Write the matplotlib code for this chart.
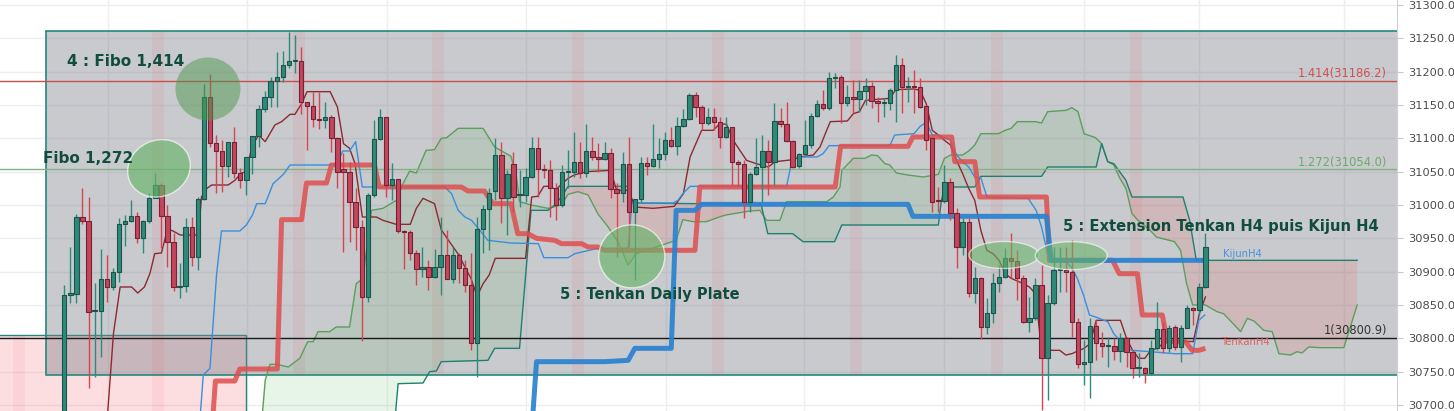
import numpy as np
import matplotlib
matplotlib.use("Agg")
import matplotlib.pyplot as plt
from matplotlib.patches import Rectangle, Ellipse
from matplotlib import transforms

# ---------------- data ----------------
opens = [30600, 30864.5, 30866.5, 30981.5, 30975.5, 30841, 30841.5, 30888.5, 30877.5, 30899,
         30971.5, 30976, 30983.5, 30950, 30976, 31011, 31030, 30983.5, 30944, 30877.5,
         30879, 30967.5, 30921.5, 31008.5, 31162.5, 31092.5, 31081.5, 31059, 31095, 31047.5,
         31037.5, 31071.5, 31103.5, 31143.5, 31161.5, 31186.5, 31191.5, 31210, 31216, 31216,
         31154, 31149, 31128.5, 31127.5, 31131.5, 31100, 31053.5, 31050, 31005, 30966.5,
         30862.5, 31015, 31098.5, 31132.5, 31030, 31038.5, 30961.5, 30959, 30927.5, 30903.5,
         30906.5, 30891.5, 30907.5, 30924.5, 30888.5, 30925, 30905, 30880, 30792.5, 30963.5,
         30993.5, 31021.5, 31075, 31010, 31061, 31015, 31015, 31041.5, 31085, 31053,
         31052.5, 31025, 31000, 31050, 31050, 31065, 31047.5, 31081, 31071.5, 31068.5,
         31077.5, 31023.5, 31017.5, 31061, 30989, 31008.5, 31062.5, 31059, 31068.5, 31076,
         31097.5, 31089, 31119, 31128.5, 31165, 31147.5, 31122.5, 31132.5, 31125, 31101.5,
         31116.5, 31065, 31061, 31005, 31046, 31057.5, 31081, 31065, 31126, 31121,
         31096.5, 31059, 31076, 31090, 31133.5, 31151, 31145, 31190, 31192.5, 31152.5,
         31161.5, 31158.5, 31171, 31178.5, 31156.5, 31152.5, 31152.5, 31172.5, 31210, 31177.5,
         31177.5, 31177.5, 31148.5, 31100, 31006, 31006, 31035, 30987.5, 30937.5, 30975,
         30867.5, 30890, 30816.5, 30838.5, 30882.5, 30892.5, 30920, 30916, 30890, 30825,
         30831, 30880, 30770, 30853.5, 30902.5, 30902.5, 30899, 30825, 30761, 30764,
         30818.5, 30792.5, 30788.5, 30788.5, 30781.5, 30800, 30780, 30756, 30756, 30748.5,
         30786, 30813.5, 30785, 30816.5, 30787.5, 30815, 30845, 30842.5, 30877.5]
closes = [30865, 30868.5, 30981.5, 30975.5, 30840, 30842, 30888.5, 30877.5, 30899, 30971.5,
          30976, 30983.5, 30950, 30976, 31011, 31030, 30983.5, 30944, 30877.5, 30879,
          30967.5, 30921.5, 31008.5, 31162.5, 31092.5, 31081.5, 31059, 31095, 31047.5, 31037.5,
          31071.5, 31103.5, 31143.5, 31161.5, 31186.5, 31191.5, 31210, 31216, 31216.5, 31154,
          31149, 31128.5, 31128, 31131.5, 31100, 31050, 31050, 31005, 30966.5, 30862.5,
          31015, 31098.5, 31132.5, 31030, 31038.5, 30961.5, 30959, 30927.5, 30903.5, 30906.5,
          30891.5, 30907.5, 30924.5, 30888.5, 30925, 30905, 30880, 30792.5, 30963.5, 30993.5,
          31017.5, 31075, 31010, 31046.5, 31012.5, 31016, 31042.5, 31085, 31054, 31052,
          31025, 31000, 31049, 31051, 31065, 31047.5, 31081, 31071.5, 31068.5, 31077.5,
          31023.5, 31017.5, 31061, 30989, 31008.5, 31062.5, 31059, 31068.5, 31076, 31097.5,
          31089, 31119, 31128.5, 31165, 31147.5, 31122.5, 31132.5, 31125, 31101.5, 31116.5,
          31065, 31061, 31005, 31046, 31057.5, 31081, 31065, 31126, 31121, 31096.5,
          31057.5, 31076, 31090, 31133.5, 31151, 31145, 31190, 31192.5, 31152.5, 31161.5,
          31158.5, 31171, 31178.5, 31156.5, 31152.5, 31153, 31172.5, 31210, 31177.5, 31178,
          31177, 31147.5, 31097.5, 31005, 31005.5, 31035, 30987.5, 30937.5, 30975, 30867.5,
          30890, 30816.5, 30838.5, 30882.5, 30892.5, 30920, 30916, 30890, 30825, 30831,
          30880, 30770, 30853.5, 30902.5, 30903, 30899, 30825, 30761, 30764, 30818.5,
          30792.5, 30788.5, 30789, 30781.5, 30800, 30780, 30755, 30756.5, 30748.5, 30786,
          30813.5, 30785, 30815, 30787.5, 30815, 30845, 30842.5, 30877.5, 30937.5]
highs = [30880, 30937, 30986.5, 31025, 31012.5, 30882.5, 30933.5, 30925, 30905, 30980,
         30985, 31007.5, 30990, 30977.5, 31017.5, 31048.5, 31032.5, 31000, 30957.5, 30912.5,
         30980, 30982.5, 31012.5, 31181.5, 31196.5, 31105, 31097.5, 31095, 31116.5, 31055,
         31071.5, 31103.5, 31150, 31171.5, 31191.5, 31229, 31231, 31260, 31255, 31237.5,
         31155, 31170, 31170, 31155, 31135, 31102.5, 31077.5, 31065, 31025, 30977.5,
         31017.5, 31127.5, 31143.5, 31132.5, 31063.5, 31038.5, 30962.5, 30962.5, 30932.5, 30936.5,
         30917.5, 30933.5, 30982.5, 30962.5, 30937.5, 30927.5, 30917.5, 30927.5, 30982.5, 31000,
         31025, 31100, 31095, 31052.5, 31080, 31052.5, 31055, 31102.5, 31101.5, 31062,
         31067.5, 31032.5, 31060, 31082.5, 31110, 31095, 31121.5, 31102.5, 31092.5, 31095,
         31085, 31032.5, 31080, 31102.5, 31008.5, 31072.5, 31072.5, 31121.5, 31100, 31110,
         31117.5, 31132.5, 31143.5, 31168.5, 31170, 31150, 31145, 31145, 31132.5, 31132.5,
         31117.5, 31067.5, 31067.5, 31050, 31100, 31105, 31097.5, 31152.5, 31145, 31155,
         31097.5, 31077.5, 31127.5, 31137.5, 31157.5, 31172.5, 31200, 31198.5, 31195, 31180,
         31187.5, 31187.5, 31190, 31185, 31162.5, 31160, 31175, 31225, 31220, 31192.5,
         31202.5, 31190, 31150, 31102.5, 31027.5, 31060, 31040, 30995, 30980, 30980,
         30907.5, 30892.5, 30860, 30897.5, 30910, 30935, 30957.5, 30932.5, 30895, 30862.5,
         30890, 30910, 30865, 30937.5, 30937.5, 30937.5, 30947.5, 30830, 30797.5, 30830,
         30827.5, 30810, 30802.5, 30800, 30807.5, 30802.5, 30782.5, 30777.5, 30757.5, 30797.5,
         30855, 30825, 30820, 30820, 30820, 30850, 30847.5, 30882.5, 30957.5]
lows = [30590, 30853.5, 30853.5, 30972, 30725, 30742.5, 30772.5, 30855, 30872, 30885,
        30938.5, 30975, 30943.5, 30927.5, 30972.5, 31010, 30935, 30907.5, 30871.5, 30860,
        30870, 30908.5, 30902.5, 31007.5, 31087.5, 31018.5, 31020, 31042.5, 31040, 31025,
        31015, 31046.5, 31087.5, 31140, 31146.5, 31146.5, 31185, 31205, 31197.5, 31136.5,
        31082.5, 31117.5, 31113.5, 31115, 31080, 31025, 30930, 30945, 30932.5, 30796.5,
        30855, 31012.5, 31097.5, 31012.5, 31007.5, 30957.5, 30903.5, 30917.5, 30880, 30891.5,
        30872.5, 30890, 30865, 30888.5, 30882.5, 30882.5, 30870, 30782.5, 30742.5, 30927.5,
        30932.5, 31007.5, 30972.5, 30955, 30990, 30997.5, 31005, 31040, 31012.5, 31040,
        30982.5, 30977.5, 30997.5, 31025, 31042.5, 31040, 31042.5, 31067.5, 31050, 31067.5,
        31010, 30922.5, 31005, 30937.5, 30887.5, 31005, 31045, 31057.5, 31055, 31067.5,
        31087.5, 31075, 31117.5, 31127.5, 31132.5, 31112.5, 31120, 31112.5, 31085, 31100,
        31030, 31027.5, 30980, 30990, 31045, 31005, 31015, 31030, 31117.5, 31095,
        31055, 31055, 31075, 31085, 31132.5, 31142.5, 31142.5, 31175, 31122.5, 31148.5,
        31137.5, 31140, 31150, 31145, 31125, 31132.5, 31142.5, 31125, 31137.5, 31155,
        31138.5, 31145, 31082.5, 30990, 30990, 31003.5, 30977.5, 30905, 30925, 30862.5,
        30852.5, 30798.5, 30806.5, 30823.5, 30870, 30890, 30890, 30857.5, 30822.5, 30810,
        30828, 30692.5, 30707.5, 30850, 30870, 30870, 30802.5, 30755, 30730, 30710,
        30767.5, 30772.5, 30757.5, 30767.5, 30765, 30757.5, 30740, 30742.5, 30732.5, 30745,
        30782.5, 30777.5, 30780, 30782.5, 30765, 30815, 30820, 30835, 30875]

# thin Tenkan (H1) line
tenkan_x = [7.0, 8.1, 9.2, 11.1, 12.1, 13.2, 14.1, 14.9, 16.0, 16.9, 17.7, 19.1, 22.1, 22.6, 23.5,
            24.3, 27.0, 28.1, 29.2, 30.0, 30.9, 32.0, 33.1, 34.7, 35.8, 37.2, 38.0, 39.1, 40.0,
            43.8, 45.0, 46.0, 47.0, 47.9, 49.1, 51.4, 52.5, 54.7, 57.0, 58.0, 59.1, 61.0, 62.1,
            63.3, 65, 66, 67, 68, 69, 70, 71, 76, 77, 78, 79, 80, 81, 82, 83, 84, 86, 90, 91,
            93, 94, 97, 100.5, 102.0, 103.1, 105.0, 106.9, 108.0, 109.1, 110.2, 111.3, 112.4,
            114.0, 116.0, 117.1, 120.1, 121.2, 123.4, 124.5, 125.6, 126.2, 129, 130, 131, 132,
            136, 137, 140, 141, 142, 143, 144, 145, 146, 147, 148, 149, 150, 151, 152, 153,
            154, 155, 156, 158, 159, 160, 161, 164, 165, 166, 168, 169, 170, 174, 175, 176,
            177, 178, 179, 180, 181, 182, 186, 187, 188]
tenkan_y = [30670, 30807, 30877, 30877, 30868, 30877, 30897, 30927, 30928, 30960, 30962, 30955,
            30955, 31012, 31025, 31030, 31030, 31037, 31048, 31050, 31087, 31105, 31095, 31120,
            31125, 31136, 31136, 31152, 31170, 31170, 31147, 31092, 31085, 31062, 30982, 30982,
            30977, 30971, 30971, 30995, 31010, 31002, 30963, 30947, 30925, 30907, 30890, 30863,
            30882, 30895, 30920, 30920, 31012, 31013, 31028, 31028, 31023, 31032, 31040, 31045,
            31050, 31052, 31022, 31022, 30997, 30995, 30998, 31017, 31072, 31112, 31112, 31122,
            31121, 31097, 31082, 31067, 31062, 31057, 31065, 31068, 31072, 31075, 31087, 31112,
            31125, 31126, 31137, 31140, 31157, 31160, 31173, 31174, 31172, 31152, 31112, 31105,
            31097, 31090, 31067, 31047, 31025, 31007, 30962, 30932, 30927, 30917, 30897, 30890,
            30882, 30877, 30867, 30782, 30782, 30775, 30777, 30785, 30792, 30827, 30827, 30800,
            30782, 30770, 30770, 30782, 30785, 30792, 30797, 30795, 30837, 30862]

# thin Kijun (H1) line
kijun_x = [22.2, 22.9, 24.0, 25.1, 25.9, 28.9, 30.0, 31.0, 31.7, 33.1, 34.4, 36.1, 37.2, 44.8,
           45.9, 47.0, 48.0, 49.1, 62.7, 63.8, 64.9, 66.0, 67.1, 68.2, 69.8, 73.6, 78.1, 79.0,
           83.0, 84.1, 87.9, 92.9, 93.5, 100.3, 101.1, 101.9, 103.1, 119.0, 120.0, 124.0,
           125.0, 126.0, 136.0, 136.8, 140.0, 141.0, 142.0, 143.0, 144.0, 146.0, 147.0, 148.0,
           149.0, 150.0, 151.0, 152.0, 158.8, 160.1, 161.0, 162.0, 163.0, 164.9, 165.9, 166.9,
           167.9, 168.9, 169.9, 171.9, 172.9, 173.9, 174.9, 175.9, 178.9, 182.9, 185.9, 186.9,
           187.9]
kijun_y = [30660, 30745, 30755, 30897, 30961, 30961, 30970, 30985, 31002, 31002, 31032, 31046,
           31060, 31060, 31081, 31081, 31095, 31027, 31027, 31017, 30992, 30982, 30977, 30965,
           30947, 30943, 30942, 30921, 30921, 30927, 30935, 30935, 31003, 31003, 31007, 31017,
           31028, 31028, 31072, 31072, 31077, 31089, 31089, 31105, 31107, 31118, 31124, 31105,
           31105, 31097, 31075, 31065, 31057, 31042, 31041, 31012, 31010, 30992, 30967, 30927,
           30917, 30915, 30907, 30890, 30865, 30835, 30832, 30825, 30807, 30797, 30787, 30782,
           30780, 30777, 30777, 30827, 30835]

# Kumo (cloud) spans
span_a_x = [32.3, 33.1, 33.9, 35.0, 36.9, 38.8, 40.1, 41.0, 41.8, 43.7, 44.8, 47.0, 48.1, 49.2,
            50.6, 52.5, 54.7, 55.8, 56.9, 58.0, 59.6, 61.0, 62.1, 63.0, 64.9, 69.0, 70.9, 73.6,
            74.5, 75.0, 76.9, 79.7, 81.9, 83.0, 84.6, 86.3, 87.9, 89.6, 91.2, 92.9, 94.2, 95.9,
            100.8, 101.9, 103.6, 105.8, 107.9, 109.0, 112.9, 114.6, 115.7, 117.9, 119.0, 125.6,
            126.7, 127.8, 128.1, 130.0, 131.9, 133.0, 134.0, 135.2, 136.0, 137.1, 139.0, 141.5,
            144.0, 145.0, 146.0, 148.0, 149.0, 150.0, 151.0, 153.9, 155.0, 156.0, 157.0, 160.0,
            161.0, 162.0, 165.0, 166.0, 167.0, 168.0, 169.9, 170.9, 171.9, 172.9, 173.9, 174.9,
            175.9, 176.9, 178.9, 179.9, 182.9, 183.9, 184.9, 185.9, 188.0, 189.9, 191.0, 193.8,
            194.9, 196.0, 197.6, 199.0, 200.1, 202.0, 203.1, 203.9, 205.0, 206.9, 210.8, 213.0]
span_a_y = [30650, 30737, 30761, 30761, 30757, 30770, 30795, 30795, 30810, 30810, 30817, 30817,
            30882, 30890, 30992, 30995, 31007, 31032, 31051, 31048, 31082, 31083, 31100, 31101,
            31115, 31115, 31087, 31073, 31042, 31005, 31000, 30995, 31000, 31016, 31020, 31015,
            30987, 30967, 30945, 30910, 30927, 30932, 30947, 30978, 30975, 30975, 30982, 30985,
            30991, 30992, 30977, 30977, 31005, 31005, 31012, 31027, 31052, 31070, 31070, 31075,
            31074, 31062, 31060, 31048, 31045, 31042, 31046, 31070, 31075, 31075, 31081, 31090,
            31107, 31107, 31112, 31115, 31125, 31125, 31123, 31140, 31142, 31146, 31140, 31107,
            31101, 31092, 31065, 31060, 31040, 31025, 30987, 30977, 30962, 30952, 30945, 30932,
            30882, 30850, 30850, 30840, 30837, 30810, 30830, 30826, 30812, 30810, 30777, 30775,
            30780, 30778, 30787, 30786, 30786, 30850]
span_b_x = [32.3, 54.2, 55.0, 59.1, 60.2, 61.3, 62.1, 69.8, 70.9, 75.0, 76.9, 79.7, 80.8, 81.9,
            83.0, 92.9, 93.5, 114.8, 115.9, 120.0, 121.7, 126.9, 128.1, 144.0, 144.5, 145.1,
            150.0, 151.0, 161.0, 162.0, 170.0, 170.9, 171.9, 172.9, 174.9, 175.9, 184.3, 185.4,
            186.5, 213.0]
span_b_y = [30650, 30650, 30732, 30733, 30750, 30751, 30765, 30767, 30785, 30785, 30992, 30992,
            31000, 31012, 31028, 31028, 31003, 31001, 30957, 30957, 30945, 30945, 30970, 30970,
            31007, 31027, 31027, 31043, 31043, 31057, 31057, 31092, 31065, 31062, 31037, 31012,
            31012, 30977, 30917, 30917]

# H4 lines
tenkan_h4_x = [24.3, 24.9, 28.1, 28.9, 35.1, 35.8, 39.1, 39.9, 43.2, 44.0, 51.1, 51.9, 65.4, 66.5,
               69.2, 70.6, 73.6, 74.7, 76.4, 77.8, 80.8, 81.9, 85.2, 86.3, 87.9, 89.0, 103.9,
               104.7, 127.0, 127.9, 139.0, 139.8, 146.2, 146.7, 150.0, 150.8, 161.8, 162.3,
               172.7, 173.8, 176.8, 177.6, 180.9, 181.7, 184.7, 185.8, 186.9, 188.0]
tenkan_h4_y = [30660, 30736, 30736, 30754, 30754, 30978, 30978, 31033, 31033, 31060, 31060, 31027,
               31027, 31021, 31021, 31002, 31002, 30957, 30957, 30950, 30947, 30942, 30942, 30937,
               30937, 30932, 30932, 31027, 31027, 31088, 31088, 31102, 31102, 31065, 31065, 31012,
               31012, 30917, 30917, 30897, 30897, 30835, 30835, 30795, 30795, 30782, 30782, 30785]
kijun_h4_x = [77.0, 77.8, 89.0, 92.9, 94.0, 100.0, 100.8, 103.9, 105.0, 139.0, 139.8, 161.8,
              162.6, 188.0]
kijun_h4_y = [30660, 30765, 30765, 30767, 30785, 30785, 30992, 30992, 31001, 31001, 30983, 30983,
              30917, 30917]

fib_levels = [31186.2, 31054.0, 30800.9]
fib_labels = ["1.414(31186.2)", "1.272(31054.0)", "1(30800.9)"]
price_ticks = [30700, 30750, 30800, 30850, 30900, 30950, 31000, 31050, 31100, 31150, 31200, 31250, 31300]
price_tick_labels = ["30700.0", "30750.0", "30800.0", "30850.0", "30900.0", "30950.0", "31000.0",
                     "31050.0", "31100.0", "31150.0", "31200.0", "31250.0", "31300.0"]

# ---------------- figure ----------------
fig = plt.figure(figsize=(14.54, 4.11), dpi=100)
fig.patch.set_facecolor("white")
ax = fig.add_axes([0, 0, 1397 / 1454, 1])
ax.set_facecolor("white")
ax.set_xlim(-10.59, 219.56)
ax.set_ylim(30691, 31307.5)

# grid
for gx in [7.25, 30.05, 53.1, 76.0, 99.1, 121.9, 145.0, 168.0, 187.0, 210.8]:
    ax.axvline(gx, color="#eeeef1", lw=1.0, zorder=0)
for p in price_ticks:
    ax.axhline(p, color="#eeeef1", lw=1.0, zorder=0)

# rectangles
BOX_L, BOX_B, BOX_T = -3.0, 30745, 31261
PINK_R, PINK_T = 29.9, 30805
ax.add_patch(Rectangle((-12, 30600), PINK_R + 12, PINK_T - 30600, facecolor=(242/255, 54/255, 69/255, 0.16),
                       edgecolor="#22897b", lw=1.0, zorder=1))
ax.add_patch(Rectangle((BOX_L, BOX_B), 230, BOX_T - BOX_B, facecolor=(120/255, 123/255, 134/255, 0.40),
                       edgecolor="#22897b", lw=1.2, zorder=1.2))

# session stripes (visible inside the two rectangles only)
stripe_fc = (242/255, 54/255, 69/255, 0.07)
for sc in [-7.5, 15.5, 38.6, 61.6, 84.7, 107.7, 130.5, 153.6, 176.5]:
    if sc - 1.0 > BOX_L:
        ax.add_patch(Rectangle((sc - 1.0, BOX_B), 2.0, BOX_T - BOX_B,
                               facecolor=stripe_fc, edgecolor="none", zorder=1.3))
        if sc + 1.0 < PINK_R:
            ax.add_patch(Rectangle((sc - 1.0, 30600), 2.0, BOX_B - 30600,
                                   facecolor=stripe_fc, edgecolor="none", zorder=1.3))
    elif sc + 1.0 < PINK_R:
        ax.add_patch(Rectangle((sc - 1.0, 30600), 2.0, PINK_T - 30600,
                               facecolor=stripe_fc, edgecolor="none", zorder=1.3))

# cloud
gx_ = np.linspace(32.3, 213.0, 4000)
sa = np.interp(gx_, span_a_x, span_a_y)
sb = np.interp(gx_, span_b_x, span_b_y)
ax.fill_between(gx_, sa, sb, where=sa >= sb, interpolate=True, color="#4caf50", alpha=0.13, lw=0, zorder=1.5)
ax.fill_between(gx_, sa, sb, where=sa < sb, interpolate=True, color="#f44336", alpha=0.13, lw=0, zorder=1.5)
ax.plot(span_a_x, span_a_y, color="#5b9f5b", lw=1.0, zorder=1.6)
ax.plot(span_b_x, span_b_y, color="#1f7f70", lw=1.0, zorder=1.6)

# fib lines
fib_colors = ["#c94f4f", "#82b482", "#1a1a1a"]
for lvl, c in zip(fib_levels, fib_colors):
    ax.axhline(lvl, color=c, lw=1.0, zorder=1.7)

# thin lines
ax.plot(tenkan_x, tenkan_y, color="#8c2a30", lw=1.0, zorder=2)
ax.plot(kijun_x, kijun_y, color="#3a8fdc", lw=1.0, zorder=2)

# thick H4 lines
ax.plot(tenkan_h4_x, tenkan_h4_y, color="#de4e4e", lw=3.6, alpha=0.85, zorder=2.5, solid_capstyle="butt")
ax.plot(kijun_h4_x, kijun_h4_y, color="#2b82d0", lw=3.6, alpha=0.92, zorder=2.6, solid_capstyle="butt")

# candles
o = np.array(opens); c = np.array(closes); h = np.array(highs); l = np.array(lows)
idx = np.arange(len(o))
up = c >= o
ax.vlines(idx[up], l[up], h[up], color="#2e8b7a", lw=1.0, zorder=3)
ax.vlines(idx[~up], l[~up], h[~up], color="#d9434f", lw=1.0, zorder=3)
body_lo = np.minimum(o, c)
body_h = np.maximum(np.abs(c - o), 1.6)
ax.bar(idx[up], body_h[up], bottom=body_lo[up], width=0.72, color="#2d8a78",
       edgecolor="#1b544a", lw=0.8, zorder=3.2)
ax.bar(idx[~up], body_h[~up], bottom=body_lo[~up], width=0.72, color="#c2465c",
       edgecolor="#7a2036", lw=0.8, zorder=3.2)

# ellipses sized in pixels, centred in data coordinates
def pix_ellipse(xd, yd, wpx, hpx, ang, fc, alpha, ec, lw):
    tr = fig.dpi_scale_trans + transforms.ScaledTranslation(xd, yd, ax.transData)
    e = Ellipse((0, 0), wpx / 100, hpx / 100, angle=ang,
                facecolor=fc, alpha=alpha, edgecolor=ec, lw=lw, zorder=5)
    ax.add_artist(e)
    e.set_transform(tr)

pix_ellipse(23.67, 31174, 65, 63, 0, "#4d974d", 0.5, "none", 0)
pix_ellipse(15.6, 31055, 64, 56, 25, "#69b469", 0.65, "white", 1.0)
pix_ellipse(93.5, 30923, 66, 63, 0, "#69b469", 0.65, "white", 1.0)
pix_ellipse(154.8, 30925, 70, 27, 0, "#69b469", 0.6, "white", 1.0)
pix_ellipse(165.9, 30924, 72, 28, 0, "#69b469", 0.6, "white", 1.0)

# annotations
tc = "#104d3d"
ax.text(0.44, 31216, "4 : Fibo 1,414", fontsize=11, fontweight="bold", color=tc, ha="left", va="center", zorder=6)
ax.text(-3.5, 31070, "Fibo 1,272", fontsize=11, fontweight="bold", color=tc, ha="left", va="center", zorder=6)
ax.text(81.7, 30866, "5 : Tenkan Daily Plate", fontsize=10.5, fontweight="bold", color=tc, ha="left", va="center", zorder=6)
ax.text(164.5, 30968, "5 : Extension Tenkan H4 puis Kijun H4", fontsize=10.6, fontweight="bold", color=tc,
        ha="left", va="center", zorder=6)

lab_y = [31198, 31064.5, 30812.5]
lab_c = ["#d05050", "#6eaa6e", "#333333"]
for txt, yy, cc in zip(fib_labels, lab_y, lab_c):
    ax.text(217.9, yy, txt, fontsize=8.3, color=cc, ha="right", va="center", zorder=6)
ax.text(190.9, 30926.5, "KijunH4", fontsize=7.2, color="#4a90d9", ha="left", va="center", zorder=6)
ax.text(190.6, 30794.5, "TenkanH4", fontsize=7.2, color="#e06060", ha="left", va="center", zorder=6)

# axes styling
ax.yaxis.tick_right()
ax.set_yticks(price_ticks)
ax.set_yticklabels(price_tick_labels)
ax.tick_params(axis="y", colors="#c8c8c8", labelcolor="#4a4a4a", labelsize=8.2, length=4, pad=4)
ax.set_xticks([])
for s in ["top", "left", "bottom"]:
    ax.spines[s].set_visible(False)
ax.spines["right"].set_color("#d0d0d0")

fig.savefig("out.png", dpi=100)
